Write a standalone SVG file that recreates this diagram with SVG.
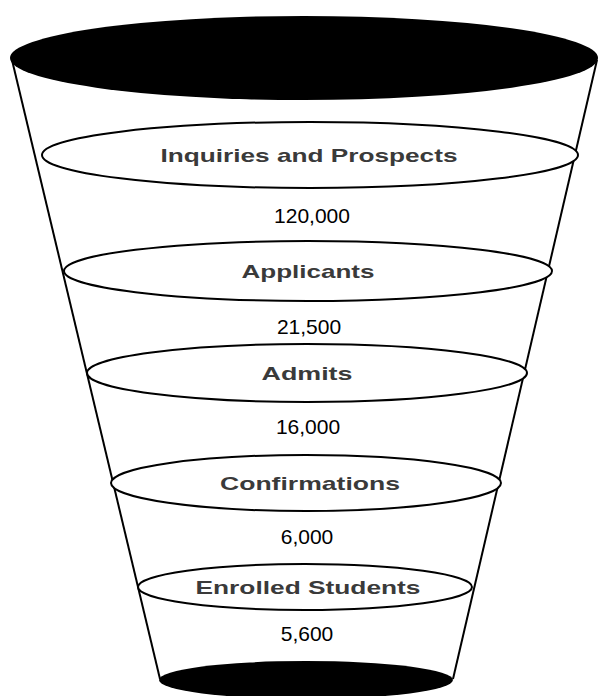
<svg xmlns="http://www.w3.org/2000/svg" width="600" height="696" viewBox="0 0 600 696">
<style>
.stage{fill:#fff;stroke:#000;stroke-width:2}
.lbl{font-family:"Liberation Sans",Arial,sans-serif;font-weight:bold;font-size:19px;fill:#3a3a3a;text-anchor:middle}
.num{font-family:"Liberation Sans",Arial,sans-serif;font-size:21px;fill:#000;text-anchor:middle}
.side{stroke:#000;stroke-width:2;fill:none}
</style>
<rect width="600" height="696" fill="#fff"/>
<g id="funnel">
<line class="side" x1="12" y1="60" x2="160" y2="679"/>
<line class="side" x1="597" y1="60" x2="453" y2="679"/>
<ellipse cx="304" cy="58" rx="294" ry="42" fill="#000"/>
<ellipse cx="306" cy="680" rx="147" ry="19" fill="#000"/>
</g>
<g id="inquiries">
<ellipse class="stage" cx="310" cy="155" rx="268" ry="33"/>
<text class="lbl" x="309" y="162" textLength="297" lengthAdjust="spacingAndGlyphs">Inquiries and Prospects</text>
</g>
<g id="applicants">
<ellipse class="stage" cx="308" cy="271" rx="244" ry="30"/>
<text class="lbl" x="308" y="278" textLength="133" lengthAdjust="spacingAndGlyphs">Applicants</text>
</g>
<g id="admits">
<ellipse class="stage" cx="307" cy="373" rx="220" ry="29"/>
<text class="lbl" x="307" y="380" textLength="91" lengthAdjust="spacingAndGlyphs">Admits</text>
</g>
<g id="confirmations">
<ellipse class="stage" cx="306" cy="483" rx="195" ry="28"/>
<text class="lbl" x="310" y="490" textLength="180" lengthAdjust="spacingAndGlyphs">Confirmations</text>
</g>
<g id="enrolled">
<ellipse class="stage" cx="305" cy="587" rx="167" ry="23"/>
<text class="lbl" x="308" y="594" textLength="225" lengthAdjust="spacingAndGlyphs">Enrolled Students</text>
</g>
<g id="numbers">
<text class="num" x="312" y="223">120,000</text>
<text class="num" x="309" y="334">21,500</text>
<text class="num" x="308" y="434">16,000</text>
<text class="num" x="307" y="544">6,000</text>
<text class="num" x="307" y="641">5,600</text>
</g>
</svg>
